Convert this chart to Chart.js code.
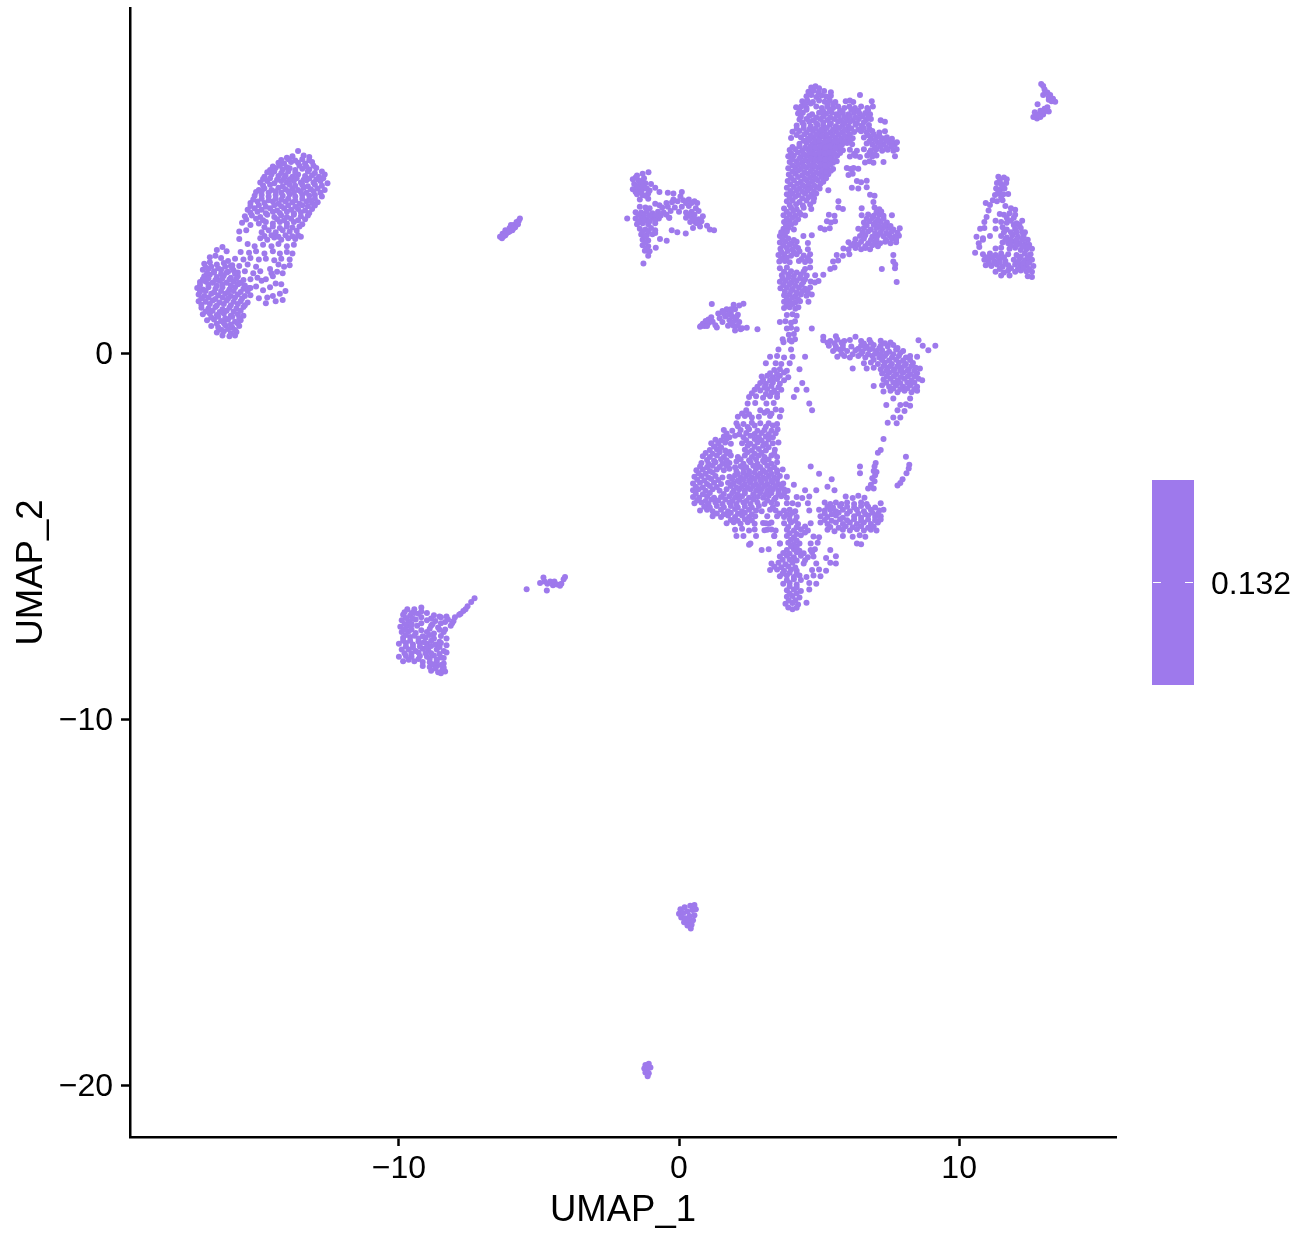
<!DOCTYPE html>
<html><head><meta charset="utf-8">
<script src="https://cdn.jsdelivr.net/npm/chart.js@4/dist/chart.umd.min.js"></script>
<style>html,body{margin:0;padding:0;background:#fff}canvas{display:block}</style>
</head><body><canvas id="c" width="1299" height="1233"></canvas>
<script>
const xTicks=[-10,0,10];
const yTicks=[-20,-10,0];
const xTitle="UMAP_1";
const yTitle="UMAP_2";
const legendLabel="0.132";
const pointColor="#9E79EC";
// each list: x,y,x,y,... in UMAP units
const sausage=[-13.6,5.52,-13.4,5.4,-13.8,5.38,-14,5.34,-13.2,5.36,-14.3,5.2,-14.1,5.18,-13.85,5.22,-13.6,5.2,-13.35,5.18,-13.1,5.22,
-14.6,5,-14.4,5.06,-14.15,5.02,-13.9,5.05,-13.7,5,-13.45,5.04,-13.2,5.02,-12.95,5.06,-14.8,4.82,-14.55,4.88,-14.3,4.84,-14.05,4.86,-13.8,4.82,-13.6,4.88,-13.35,4.84,-13.1,4.86,-12.85,4.82,-12.65,4.88,
-14.95,4.66,-14.7,4.7,-14.45,4.64,-14.2,4.7,-14,4.66,-13.75,4.7,-13.5,4.66,-13.3,4.72,-13.05,4.66,-12.8,4.7,-12.55,4.64,-15,4.46,-14.8,4.5,-14.55,4.46,-14.3,4.52,-14.05,4.48,-13.8,4.5,-13.6,4.46,-13.4,4.52,-13.15,4.48,-12.9,4.5,-12.65,4.46,
-15.15,4.3,-14.9,4.32,-14.65,4.28,-14.4,4.32,-14.15,4.3,-13.9,4.34,-13.7,4.28,-13.45,4.32,-13.2,4.3,-13,4.32,-12.75,4.28,-15.3,4.1,-15.05,4.14,-14.8,4.1,-14.5,4.14,-14.3,4.08,-14.05,4.14,-13.8,4.12,-13.55,4.08,-13.3,4.14,-13.1,4.1,-12.9,4.12,
-15.4,3.92,-15.15,3.96,-14.9,3.92,-14.6,3.96,-14.35,3.9,-14.1,3.96,-13.85,3.92,-13.6,3.94,-13.35,3.9,-13.1,3.94,-15.5,3.74,-15.25,3.76,-14.95,3.72,-14.7,3.78,-14.45,3.72,-14.2,3.76,-14,3.72,-13.75,3.78,-13.5,3.74,-13.25,3.76,
-15.6,3.56,-15.3,3.5,-15,3.54,-14.75,3.58,-14.5,3.54,-14.25,3.58,-14,3.54,-13.75,3.58,-13.45,3.52,-15.7,3.32,-15.45,3.36,-14.9,3.3,-14.65,3.36,-14.4,3.3,-14.15,3.36,-13.9,3.32,-13.65,3.34,-15.7,3.12,-14.95,3.14,-14.7,3.1,-14.45,3.16,-14.2,3.1,-13.95,3.14,-13.7,3.12,-13.5,3.18,
-15.4,2.98,-15.15,2.92,-14.85,2.96,-14.55,2.92,-14.3,2.98,-14,2.92,-13.75,2.96,-15.65,2.76,-15.35,2.74,-15.1,2.78,-14.8,2.72,-14.5,2.78,-14.25,2.72,-14,2.76,-13.8,2.72,-15.85,2.58,-15.55,2.56,-15.3,2.6,-15,2.56,-14.75,2.58,-14.45,2.54,-14.2,2.58,-13.9,2.56,
-15.95,2.4,-15.7,2.38,-15.4,2.42,-15.1,2.36,-14.6,2.3,-14.3,2.42,-14.1,2.36,-13.9,2.4,-15.75,2.2,-15.5,2.24,-15.2,2.18,-14.95,2.24,-14.55,2.18,-14.75,2.02,-14.5,2.1,-14.35,2.22,-14.15,2.18,-14.9,1.98,-15.3,2.02,-15.05,2.06,-15.55,2,-15.7,1.9,-15.35,1.78,-15.1,1.82,-14.85,1.72,-14.6,1.8,-14.4,1.9,-14.2,1.88,-14.05,1.7,-14.25,1.62,-14.5,1.56,-14.7,1.52,-14.15,1.45,-14.4,1.42,-15.3,1.58,-15,1.5,-14.75,1.36];
const sausageFill=[-14.2,5.28,-13.95,5.3,-13.7,5.26,-13.45,5.3,-13.2,5.27,-14.5,5.1,-14.25,5.12,-14,5.08,-13.55,5.12,-13.3,5.09,-13.05,5.12,-14.7,4.94,-14.45,4.96,-14.2,4.92,-13.95,4.96,-13.7,4.93,-13.25,4.96,-13,4.92,-12.75,4.96,
-14.85,4.76,-14.6,4.78,-14.35,4.74,-14.1,4.78,-13.9,4.75,-13.65,4.78,-13.4,4.74,-13.2,4.77,-12.95,4.75,-12.7,4.78,-14.85,4.58,-14.6,4.6,-14.15,4.56,-13.9,4.6,-13.7,4.57,-13.45,4.6,-13.25,4.56,-13,4.6,-12.75,4.57,
-15.1,4.4,-14.9,4.42,-14.65,4.38,-14.4,4.42,-14.2,4.39,-13.95,4.42,-13.75,4.38,-13.5,4.41,-13.3,4.38,-13.05,4.42,-12.8,4.38,-15.2,4.2,-14.9,4.22,-14.65,4.18,-14.4,4.22,-14.2,4.19,-13.95,4.22,-13.7,4.18,-13.45,4.22,-13.2,4.19,-13,4.22,
-15.3,4.02,-15,4.04,-14.75,4,-14.45,4.04,-14.2,4.01,-13.95,4.04,-13.7,4,-13.45,4.04,-13.25,4.01,-13,4.03,-15.3,3.84,-15.05,3.86,-14.75,3.82,-14.5,3.86,-14.25,3.83,-14,3.86,-13.75,3.82,-13.5,3.85,-13.2,3.83,
-15.45,3.65,-15.1,3.67,-14.85,3.63,-14.35,3.66,-14.1,3.63,-13.85,3.67,-13.6,3.63,-13.35,3.66,-14.8,3.44,-14.5,3.46,-14.25,3.42,-14,3.46,-13.8,3.43,-13.55,3.46,-14.8,3.2,-14.55,3.22,-14.3,3.18,-14.05,3.22,-13.8,3.19,-13.6,3.22];
const blobA=[-16.3,2.9,-16.5,2.82,-16.15,2.78,-16.75,2.62,-16.55,2.66,-16.35,2.6,-16.1,2.52,-16.95,2.44,-16.75,2.48,-16.5,2.42,-16.25,2.46,-16,2.38,-17,2.28,-16.8,2.3,-16.6,2.24,-16.35,2.28,-16.1,2.22,-15.9,2.26,-16.95,2.1,-16.75,2.14,-16.5,2.08,-16.25,2.12,-16,2.06,-15.75,2.1,
-17.1,1.94,-16.9,1.96,-16.65,1.92,-16.4,1.98,-16.15,1.92,-15.9,1.96,-15.65,1.92,-17.2,1.78,-17,1.74,-16.8,1.8,-16.55,1.76,-16.3,1.8,-16.05,1.74,-15.85,1.8,-15.55,1.76,-15.3,1.78,-17.15,1.6,-16.95,1.56,-16.7,1.62,-16.45,1.58,-16.2,1.62,-16,1.56,-15.75,1.6,-15.5,1.56,
-17.15,1.42,-16.9,1.4,-16.65,1.44,-16.4,1.38,-16.15,1.44,-15.9,1.4,-15.65,1.42,-15.4,1.38,-17.05,1.24,-16.8,1.22,-16.55,1.26,-16.3,1.2,-16.05,1.24,-15.8,1.22,-15.55,1.26,-17,1.06,-16.75,1.08,-16.5,1.04,-16.25,1.08,-16,1.02,-15.75,1.06,-15.55,1.02,
-16.85,.9,-16.6,.92,-16.35,.88,-16.1,.92,-15.85,.86,-15.65,.9,-16.7,.74,-16.45,.7,-16.2,.76,-15.95,.7,-15.7,.74,-16.5,.56,-16.25,.6,-16,.54,-15.8,.58,-16.3,.48,-16.05,.46,-15.85,.48];
const blobFill=[-16.9,2.34,-16.7,2.36,-16.45,2.32,-16.2,2.36,-15.95,2.33,-16.85,2.18,-16.6,2.2,-16.35,2.16,-16.15,2.2,-15.85,2.17,-17,2.02,-16.8,2.04,-16.55,2,-16.3,2.04,-16.05,2.01,-15.8,2.03,-17.1,1.86,-16.8,1.88,-16.5,1.84,-16.3,1.88,-16,1.85,-15.75,1.88,-15.5,1.85,
-17.1,1.68,-16.9,1.7,-16.6,1.66,-16.35,1.7,-16.1,1.67,-15.9,1.7,-15.65,1.67,-15.4,1.7,-17.05,1.5,-16.8,1.52,-16.55,1.48,-16.3,1.52,-16.1,1.49,-15.85,1.52,-15.6,1.49,-17.05,1.32,-16.75,1.34,-16.5,1.3,-16.25,1.34,-16,1.31,-15.75,1.34,-15.5,1.31,
-16.9,1.14,-16.65,1.16,-16.4,1.12,-16.15,1.16,-15.9,1.13,-15.65,1.16,-16.7,.97,-16.45,.99,-16.2,.95,-15.95,.99,-15.7,.96,-16.5,.8,-16.25,.82,-16,.78,-15.75,.81,-16.35,.64,-16.1,.66,-15.85,.63];
const topTall=[4.72,7.26,4.87,7.29,5,7.24,4.62,7.14,4.8,7.17,4.98,7.12,5.18,7.16,5.42,7.13,4.55,7.02,4.72,7.05,4.9,7,5.08,7.04,5.25,7.01,5.42,7.03,6.46,7.05,
4.4,6.88,4.58,6.9,4.78,6.86,5,6.9,5.2,6.87,5.38,6.9,5.58,6.86,5.95,6.88,6.1,6.9,6.22,6.86,6.88,6.88,4.18,6.72,4.36,6.74,4.55,6.7,4.9,6.74,5.1,6.7,5.3,6.73,5.5,6.7,5.68,6.74,5.9,6.7,6.08,6.74,6.28,6.7,6.5,6.74,6.72,6.7,6.92,6.74,
4.25,6.55,4.42,6.57,4.75,6.53,5,6.57,5.25,6.54,5.45,6.57,5.62,6.53,5.85,6.56,6.05,6.53,6.25,6.57,6.45,6.54,6.65,6.56,6.82,6.53,4.3,6.38,4.55,6.4,4.8,6.36,5.05,6.4,5.3,6.37,5.55,6.4,5.78,6.36,6,6.39,6.2,6.36,6.42,6.4,6.68,6.37,6.85,6.4,7.2,6.36,7.35,6.32,
4.2,6.22,4.45,6.24,4.7,6.2,4.95,6.24,5.15,6.21,5.38,6.24,5.6,6.2,5.85,6.23,6.05,6.2,6.3,6.24,6.52,6.21,6.78,6.23,4.05,6.05,4.3,6.07,4.55,6.03,4.78,6.07,5,6.04,5.18,6.07,5.4,6.03,5.6,6.06,5.82,6.03,6.02,6.07,6.25,6.04,6.5,6.06,6.7,6.03,6.9,6.07,7.15,6.03,7.35,6.06,
4,5.88,4.35,5.9,4.6,5.86,4.8,5.9,5,5.87,5.2,5.9,5.38,5.86,5.58,5.89,5.8,5.86,6,5.9,6.2,5.87,6.6,5.89,6.85,5.86,7.05,5.9,7.25,5.87,7.42,5.9,7.6,5.86,4.3,5.72,4.55,5.74,4.75,5.7,4.92,5.74,5.1,5.71,5.28,5.74,5.46,5.7,5.64,5.73,5.82,5.7,6,5.74,6.18,5.71,6.7,5.73,6.9,5.7,7.1,5.74,7.3,5.71,7.5,5.74,7.7,5.7,7.78,5.76,
3.95,5.55,4.15,5.57,4.4,5.53,4.6,5.57,4.78,5.54,4.96,5.57,5.14,5.53,5.32,5.56,5.5,5.53,5.68,5.57,5.85,5.54,6.1,5.56,6.35,5.53,6.6,5.57,6.85,5.54,7.05,5.57,7.25,5.53,7.45,5.56,7.65,5.53,7.77,5.57,
3.9,5.38,4.1,5.4,4.35,5.36,4.55,5.4,4.75,5.37,4.92,5.4,5.1,5.36,5.28,5.39,5.45,5.36,5.65,5.4,6.1,5.37,6.3,5.39,6.46,5.36,6.72,5.4,6.9,5.37,7.05,5.4,7.71,5.38,3.95,5.22,4.2,5.24,4.4,5.2,4.6,5.24,4.8,5.21,4.98,5.24,5.15,5.2,5.32,5.23,5.5,5.2,5.63,5.24,6.64,5.21,6.8,5.24,6.94,5.2,7.3,5.22,
3.9,5.05,4.15,5.07,4.35,5.03,4.55,5.07,4.75,5.04,4.95,5.07,5.12,5.03,5.3,5.06,5.5,5.03,5.99,5.06,6.12,5.03,6.23,5.06,6.4,5.04,3.92,4.88,4.15,4.9,4.4,4.86,4.6,4.9,4.8,4.87,5,4.9,5.18,4.86,5.33,4.89,6.05,4.87,6.2,4.9,3.88,4.7,4.1,4.72,4.35,4.68,4.55,4.72,4.75,4.69,4.95,4.72,5.15,4.68,6.35,4.7,6.5,4.67,6.7,4.71,
3.85,4.52,4.1,4.54,4.3,4.5,4.5,4.54,4.7,4.51,4.9,4.54,5.02,4.5,5.33,4.45,6.17,4.52,6.4,4.5,6.7,4.53,3.85,4.34,4.05,4.36,4.25,4.32,4.5,4.36,4.72,4.33,4.9,4.36,6.82,4.33,6.98,4.3,3.85,4.15,4.05,4.17,4.3,4.13,4.55,4.17,4.8,4.14,5.69,4.15,6.94,4.13,
3.75,3.95,4,3.97,4.2,3.93,4.45,3.97,4.72,3.94,5.69,3.98,5.85,3.94,6.52,3.96,6.98,3.98,7.15,3.93,3.73,3.77,3.95,3.79,4.15,3.75,4.35,3.79,4.5,3.76,5.35,3.78,5.55,3.75,6.52,3.77,6.75,3.79,6.95,3.75,7.15,3.78,7.3,3.75,7.6,3.77,3.75,3.58,3.95,3.6,4.15,3.56,5.28,3.6,5.42,3.57,5.57,3.6,6.6,3.57,6.8,3.6,7,3.56,7.2,3.59,7.42,3.57,
3.73,3.4,3.9,3.42,4.1,3.38,5.05,3.42,5.2,3.38,5.38,3.41,6.4,3.4,6.6,3.42,6.85,3.38,7.05,3.42,7.25,3.39,7.45,3.42,7.65,3.38,7.88,3.41,3.6,3.2,3.78,3.22,4.44,3.2,4.74,3.22,6.46,3.2,6.65,3.22,6.9,3.18,7.1,3.22,7.3,3.19,7.5,3.22,7.7,3.18,7.85,3.21,
3.6,3.02,3.8,3.04,4,3,4.2,3.04,4.6,3.01,6.05,3.03,6.25,3,6.5,3.04,6.75,3,7,3.03,7.18,3,7.36,3.04,7.55,3,7.75,3.03,3.62,2.85,3.85,2.87,4.05,2.83,4.25,2.87,4.6,2.84,5.87,2.86,6.05,2.83,6.3,2.87,6.5,2.84,6.65,2.87,6.82,2.84,
3.55,2.68,3.75,2.7,4,2.66,4.2,2.7,4.45,2.67,4.68,2.7,5.63,2.68,5.85,2.66,6.08,2.7,7.65,2.68,3.58,2.5,3.78,2.52,3.95,2.48,4.28,2.52,4.5,2.49,4.68,2.52,5.5,2.5,5.68,2.53,7.65,2.5,3.6,2.32,3.85,2.34,4.5,2.3,4.68,2.34,5.4,2.3,5.55,2.34,7.24,2.3,7.71,2.32,7.72,2.42,
3.67,2.13,3.9,2.15,4.1,2.11,4.35,2.15,4.56,2.12,4.86,2.13,5.15,2.14,3.6,1.95,3.8,1.97,4,1.93,4.2,1.97,4.44,1.94,4.7,1.96,4.85,1.93,4.98,1.97,7.77,1.94,3.62,1.77,3.85,1.79,4.05,1.75,4.28,1.79,4.5,1.76,4.68,1.79,
3.75,1.58,3.95,1.6,4.15,1.56,4.35,1.6,4.55,1.57,4.74,1.6,3.75,1.4,3.95,1.42,4.15,1.38,4.32,1.42,4.62,1.4,3.75,1.23,3.95,1.25,4.15,1.21,4.26,1.25,3.85,1.04,4.05,1.06,4.2,1.02,3.6,.85,3.8,.87,4,.83,4.14,.87,3.85,.67,4,.69,4.2,.65,4.74,.67,3.92,.5,4.1,.52,3.73,.3,4.02,.32];
const topFill=[4.5,6.8,4.7,6.82,5.3,6.78,5.5,6.81,4.3,6.63,4.55,6.65,5.15,6.61,5.38,6.64,5.75,6.62,6.15,6.65,6.4,6.62,6.75,6.64,4.35,6.46,4.65,6.48,4.9,6.44,5.15,6.47,5.4,6.44,5.7,6.48,5.9,6.45,6.1,6.48,6.3,6.44,6.55,6.47,6.75,6.45,
4.4,6.3,4.65,6.32,4.9,6.28,5.15,6.31,5.42,6.28,5.68,6.32,5.9,6.29,6.1,6.32,6.35,6.28,6.6,6.31,4.2,6.13,4.45,6.15,4.65,6.11,4.88,6.14,5.08,6.11,5.28,6.15,5.5,6.12,5.72,6.15,5.92,6.11,6.15,6.14,6.4,6.11,6.6,6.15,6.8,6.12,
4.2,5.96,4.48,5.98,4.7,5.94,4.9,5.97,5.1,5.94,5.28,5.98,5.48,5.95,5.7,5.98,5.9,5.94,6.1,5.97,6.75,5.95,6.95,5.98,7.15,5.94,4.45,5.8,4.65,5.82,4.85,5.78,5,5.81,5.2,5.78,5.38,5.82,5.55,5.79,5.72,5.82,5.9,5.78,6.1,5.81,6.8,5.79,7,5.82,7.2,5.78,7.4,5.81,7.6,5.78,
4.05,5.63,4.3,5.65,4.5,5.61,4.7,5.64,4.87,5.61,5.05,5.65,5.23,5.62,5.4,5.65,5.58,5.61,5.76,5.64,7,5.62,7.2,5.65,7.4,5.61,7.6,5.64,4,5.46,4.25,5.48,4.45,5.44,4.65,5.47,4.85,5.44,5.02,5.48,5.2,5.45,5.37,5.48,5.55,5.44,5.75,5.47,6.25,5.45,6.8,5.48,6.98,5.44,
4.05,5.3,4.3,5.32,4.5,5.28,4.7,5.31,4.88,5.28,5.05,5.32,5.22,5.29,5.4,5.32,5.57,5.28,4.05,5.13,4.25,5.15,4.45,5.11,4.65,5.14,4.85,5.11,5.05,5.15,5.22,5.12,5.4,5.15,4.05,4.96,4.25,4.98,4.48,4.94,4.7,4.97,4.9,4.94,5.1,4.98,5.25,4.95,5.42,4.98,
4,4.79,4.25,4.81,4.48,4.77,4.68,4.8,4.88,4.77,5.08,4.81,5.25,4.78,3.98,4.61,4.22,4.63,4.42,4.59,4.62,4.62,4.82,4.59,5.05,4.63,3.98,4.43,4.2,4.45,4.4,4.41,4.6,4.44,4.82,4.41,3.95,4.25,4.15,4.27,4.4,4.23,4.62,4.26,4.82,4.23,3.95,4.05,4.18,4.07,4.42,4.03,4.68,4.06,
3.85,3.86,4.08,3.88,4.3,3.84,3.85,3.68,4.05,3.7,4.25,3.66,3.82,3.49,4,3.51,3.65,3.3,3.85,3.32,3.7,3.11,3.9,3.13,4.1,3.09,3.72,2.94,3.95,2.96,4.15,2.92,3.65,2.77,3.88,2.79,4.1,2.75,4.3,2.78,3.65,2.59,3.85,2.61,4.38,2.57,4.6,2.6,
3.75,2.22,4,2.24,4.2,2.2,4.45,2.23,3.7,2.04,3.9,2.06,4.1,2.02,4.32,2.05,4.5,2.02,3.72,1.86,3.95,1.88,4.15,1.84,4.38,1.87,3.78,1.68,4,1.7,4.2,1.66,4.4,1.69,4.6,1.66,3.85,1.49,4.05,1.51,4.25,1.47,3.85,1.32,4.05,1.34,
7.05,3.85,7.22,3.87,6.7,3.67,6.9,3.69,7.1,3.65,7.3,3.68,6.7,3.49,6.95,3.51,7.15,3.47,7.35,3.5,7.55,3.47,6.55,3.3,6.75,3.32,7,3.28,7.2,3.31,7.4,3.28,7.6,3.32,7.8,3.29,6.3,3.11,6.6,3.13,6.85,3.09,7.05,3.12,7.4,3.09,7.6,3.13,7.75,3.1,6.15,2.94,6.4,2.96,6.65,2.92,6.9,2.95,7.1,2.92];
const lowerLeft=[3.7,.38,3.95,.36,4.14,.38,3.55,.1,4,.1,3.25,-.1,3.5,-.08,3.75,-.12,4.05,-.1,4.5,-.1,3.1,-.28,3.45,-.28,3.65,-.3,3.95,-.28,4.3,-.44,3.4,-.46,3.6,-.44,3.85,-.48,2.95,-.64,3.15,-.62,3.35,-.66,3.6,-.62,3.9,-.66,2.9,-.82,3.1,-.84,3.35,-.8,3.6,-.84,4.4,-.82,
2.7,-1,2.9,-1.02,3.15,-.98,3.4,-1.02,3.65,-1,4.2,-1,4.55,-1,2.5,-1.2,2.75,-1.18,3,-1.22,3.25,-1.18,3.5,-1.2,4.1,-1.2,2.45,-1.38,2.72,-1.36,3.12,-1.38,3.38,-1.36,4.65,-1.38,2.4,-1.56,2.9,-1.56,3.15,-1.58,3.45,-1.54,3.65,-1.56,4.75,-1.56,
2.1,-1.74,2.35,-1.72,2.6,-1.76,2.85,-1.74,3.25,-1.72,3.6,-1.74,2.05,-1.92,2.3,-1.94,2.6,-1.9,2.9,-1.92,3.2,-1.92,3.5,-1.94,1.6,-2.1,1.9,-2.12,2.2,-2.1,2.5,-2.08,2.8,-2.12,3.05,-2.1,3.3,-2.12,3.52,-2.08,1.6,-2.28,1.8,-2.3,2,-2.26,2.3,-2.3,2.55,-2.26,2.85,-2.3,3.1,-2.28,3.35,-2.3,
1.15,-2.46,1.4,-2.48,1.65,-2.44,1.85,-2.48,2.25,-2.46,2.55,-2.48,2.8,-2.44,3.1,-2.48,3.35,-2.46,3.55,-2.44,1.1,-2.65,1.35,-2.63,1.65,-2.66,1.8,-2.7,2.35,-2.64,2.6,-2.66,2.85,-2.62,3.1,-2.66,3.42,-2.64,.85,-2.82,1.1,-2.84,1.35,-2.8,1.6,-2.84,1.85,-2.8,2.1,-2.84,2.35,-2.8,2.6,-2.84,2.85,-2.8,3.05,-2.84,3.3,-2.8,3.5,-2.84,
.8,-3,1.05,-3.02,1.3,-2.98,1.55,-3.02,1.8,-3,2.05,-2.96,2.3,-3.02,2.55,-2.98,2.8,-3.02,3.05,-2.98,3.3,-3.02,3.5,-2.98,.62,-3.2,.85,-3.18,1.1,-3.22,1.35,-3.18,1.6,-3.2,1.8,-3.16,2.05,-3.22,2.3,-3.16,2.5,-3.22,2.75,-3.16,3,-3.2,3.25,-3.18,3.5,-3.2,3.7,-3.18,
.55,-3.38,.8,-3.36,1.05,-3.4,1.3,-3.36,1.55,-3.4,1.8,-3.38,2,-3.34,2.2,-3.4,2.4,-3.36,2.6,-3.4,2.8,-3.36,3,-3.4,3.2,-3.36,3.4,-3.4,3.6,-3.36,3.85,-3.38,.5,-3.56,.75,-3.54,1,-3.58,1.25,-3.54,1.5,-3.58,1.75,-3.54,1.95,-3.56,2.15,-3.52,2.35,-3.58,2.55,-3.54,2.75,-3.58,2.95,-3.54,3.15,-3.58,3.35,-3.54,3.55,-3.58,3.72,-3.56,4.1,-3.6,
.5,-3.75,.7,-3.72,.95,-3.76,1.2,-3.72,1.45,-3.76,1.7,-3.72,1.95,-3.76,2.15,-3.72,2.35,-3.76,2.55,-3.72,2.75,-3.76,2.95,-3.72,3.15,-3.76,3.35,-3.72,3.55,-3.76,3.75,-3.72,3.88,-3.76,.5,-3.93,.72,-3.95,1,-3.91,1.25,-3.95,1.5,-3.93,1.8,-3.91,2,-3.95,2.25,-3.91,2.5,-3.95,2.8,-3.93,3,-3.95,3.2,-3.9,3.45,-3.95,3.65,-3.91,3.85,-3.95,
.55,-4.1,.8,-4.08,1.05,-4.12,1.3,-4.08,1.55,-4.12,1.8,-4.08,2.05,-4.12,2.3,-4.08,2.55,-4.12,2.8,-4.08,3.05,-4.12,3.3,-4.08,3.5,-4.12,.75,-4.3,1,-4.28,1.2,-4.32,1.5,-4.28,1.75,-4.32,2,-4.26,2.25,-4.32,2.5,-4.28,2.75,-4.3,2.95,-4.32,3.25,-4.28,3.45,-4.3,
1.2,-4.46,1.5,-4.48,1.75,-4.44,2,-4.48,2.25,-4.44,2.5,-4.48,2.72,-4.46,3.15,-4.46,1.7,-4.65,1.95,-4.62,2.2,-4.66,2.45,-4.62,2.7,-4.66,3,-4.64,3.2,-4.66,2,-4.83,2.25,-4.8,2.5,-4.85,2.7,-4.82,3.05,-4.84,3.3,-4.82,2.05,-5,2.3,-5,2.75,-5,3.4,-5,2.55,-5.2,3.6,-5.2,2.95,-5.38,3.2,-5.36,2.5,-5.24];
const lowerLeftFill=[1,-2.92,1.25,-2.94,1.5,-2.9,1.7,-2.93,2.2,-2.9,2.5,-2.93,2.75,-2.9,3,-2.94,3.2,-2.91,.75,-3.1,1,-3.12,1.2,-3.08,1.45,-3.11,1.7,-3.08,2,-3.12,2.2,-3.09,2.4,-3.12,2.65,-3.08,2.9,-3.11,3.15,-3.08,3.4,-3.12,.7,-3.28,.95,-3.3,1.2,-3.26,2.1,-3.3,2.3,-3.27,2.5,-3.3,2.7,-3.26,2.9,-3.29,3.1,-3.26,3.3,-3.3,3.5,-3.27,
.65,-3.46,.9,-3.48,1.15,-3.44,1.4,-3.47,1.9,-3.44,2.1,-3.48,2.3,-3.45,2.5,-3.48,2.7,-3.44,2.9,-3.47,3.1,-3.44,3.3,-3.48,3.5,-3.45,.6,-3.65,.85,-3.67,1.1,-3.63,1.35,-3.66,1.85,-3.63,2.05,-3.67,2.25,-3.64,2.45,-3.67,2.65,-3.63,2.85,-3.66,3.05,-3.63,3.25,-3.67,3.45,-3.64,3.65,-3.67,
.6,-3.84,.85,-3.86,1.1,-3.82,1.6,-3.85,1.9,-3.82,2.1,-3.86,2.35,-3.83,2.65,-3.86,2.9,-3.82,3.1,-3.85,3.3,-3.82,3.55,-3.86,3.75,-3.83,.65,-4.02,.95,-4.04,1.15,-4,1.4,-4.03,1.65,-4,1.9,-4.04,2.15,-4.01,2.4,-4.04,2.65,-4,3.15,-4.03,3.4,-4,.9,-4.2,1.1,-4.22,1.35,-4.18,1.6,-4.21,1.85,-4.18,2.1,-4.22,2.35,-4.19,2.6,-4.22,2.85,-4.18,3.35,-4.21,
1.35,-4.38,1.6,-4.4,1.85,-4.36,2.1,-4.39,2.35,-4.36,2.6,-4.4,1.85,-4.56,2.1,-4.58,2.35,-4.54,2.6,-4.57,
3.25,-.55,3.5,-.57,3.75,-.53,3,-.73,3.25,-.75,3.5,-.71,3.75,-.74,2.8,-.92,3.05,-.94,3.3,-.9,3.55,-.93,2.6,-1.1,3.1,-1.12,3.3,-1.08,3.5,-1.11,2.25,-1.65,2.5,-1.67,3.05,-1.63,3.3,-1.66,2.1,-2,2.45,-2.02,2.7,-1.98,3.1,-2.01,3.35,-1.98,
1.7,-2.2,2.15,-2.22,2.4,-2.18,2.7,-2.21,2.95,-2.18,3.2,-2.22,3.45,-2.19,1.3,-2.37,1.5,-2.39,1.7,-2.35,2.4,-2.38,2.7,-2.35,2.95,-2.39,3.2,-2.36,1.25,-2.55,1.5,-2.57,2.45,-2.53,2.7,-2.56,3,-2.53,3.2,-2.57,.95,-2.73,1.2,-2.75,1.45,-2.71,1.7,-2.74,2.45,-2.71,2.7,-2.75,2.95,-2.72,3.4,-2.74];
const lowerMid=[4.7,-3.1,5,-3.3,5.45,-3.45,5.3,-3.65,5.55,-3.75,4.5,-3.75,4.9,-3.75,4.2,-3.93,4.4,-3.96,4.65,-3.92,5.95,-3.92,6.2,-3.96,6.4,-3.9,6.62,-3.95,6.75,-3.7,3.85,-4.1,4.05,-4.1,4.25,-4.14,4.6,-4.1,5.2,-4.08,5.4,-4.12,5.6,-4.08,5.8,-4.12,6,-4.08,6.25,-4.12,6.5,-4.08,6.7,-4.12,7.2,-4.1,
3.75,-4.3,3.95,-4.28,4.15,-4.32,4.65,-4.3,5,-4.28,5.2,-4.3,5.4,-4.28,5.6,-4.32,5.85,-4.28,6.1,-4.32,6.35,-4.28,6.6,-4.32,6.85,-4.28,7.15,-4.3,7.3,-4.28,3.5,-4.46,3.75,-4.48,3.95,-4.44,4.2,-4.48,5.05,-4.46,5.3,-4.48,5.6,-4.44,5.85,-4.5,6.25,-4.46,6.5,-4.5,6.75,-4.44,7,-4.48,7.2,-4.46,
3.1,-4.65,3.3,-4.63,3.75,-4.65,4,-4.63,4.25,-4.67,4.7,-4.65,5.05,-4.63,5.3,-4.67,5.6,-4.63,5.85,-4.67,6.1,-4.63,6.35,-4.67,6.6,-4.63,6.85,-4.67,7.1,-4.63,3.15,-4.83,3.45,-4.85,3.85,-4.83,4.1,-4.85,4.35,-4.81,4.6,-4.85,5.3,-4.83,5.55,-4.87,5.85,-4.83,6.1,-4.85,6.35,-4.81,6.6,-4.85,6.85,-4.83,7.05,-4.85,
3.4,-5,3.85,-5,4.1,-5.03,4.35,-4.98,4.8,-5.01,5,-5.03,5.85,-5,6.2,-5.02,6.45,-4.98,6.65,-5.02,3.6,-5.2,3.9,-5.18,4.1,-5.22,4.3,-5.2,4.7,-5.2,4.95,-5.18,6.35,-5.2,6.5,-5.22,3.85,-5.38,4.1,-5.36,4.3,-5.4,4.7,-5.38,4.85,-5.36,5.4,-5.38,
3.6,-5.56,3.85,-5.54,4.1,-5.58,4.35,-5.54,4.6,-5.58,4.8,-5.56,5.25,-5.6,5.6,-5.55,3.3,-5.75,3.55,-5.73,3.8,-5.77,4.05,-5.73,4.45,-5.75,4.9,-5.75,5.4,-5.73,5.6,-5.75,3.25,-5.93,3.5,-5.91,3.75,-5.95,4,-5.91,4.2,-5.95,4.75,-5.93,5,-5.91,5.25,-5.95,
3.6,-6.1,3.85,-6.08,4.1,-6.12,4.3,-6.08,4.55,-6.12,4.8,-6.08,5.05,-6.1,3.72,-6.3,3.95,-6.28,4.2,-6.32,4.65,-6.28,4.9,-6.3,3.85,-6.48,4.1,-6.46,4.35,-6.5,4.65,-6.46,3.85,-6.66,4.05,-6.64,4.3,-6.68,3.8,-6.85,4.05,-6.83,4.25,-6.87,4.55,-6.82,4.05,-7,4.2,-6.96,3.9,-6.95];
const lowerMidFill=[5.3,-4.2,5.5,-4.22,5.75,-4.18,6,-4.2,6.25,-4.22,6.5,-4.18,6.75,-4.2,7,-4.22,5.2,-4.38,5.45,-4.4,5.7,-4.36,6,-4.39,6.4,-4.38,6.65,-4.4,6.9,-4.36,7.1,-4.39,5.2,-4.56,5.45,-4.58,5.75,-4.54,6,-4.57,6.25,-4.54,6.5,-4.58,6.75,-4.55,7,-4.57,7.2,-4.55,5.4,-4.75,5.7,-4.77,5.95,-4.73,6.2,-4.76,6.5,-4.73,6.75,-4.77,6.95,-4.74,
3.95,-4.55,4.15,-4.58,3.9,-4.75,4.2,-4.76,4.5,-4.74,3.95,-4.92,4.2,-4.94,4.5,-4.9,4,-5.1,4.2,-5.12,4,-5.28,4.2,-5.3,3.7,-5.65,3.95,-5.65,4.2,-5.67,4.5,-5.66,3.4,-5.84,3.65,-5.85,3.9,-5.83,4.15,-5.86,3.7,-6.02,3.95,-6,4.2,-6.03,3.85,-6.2,4.1,-6.18,4.35,-6.2,3.95,-6.38,4.2,-6.4,3.95,-6.57,4.2,-6.56,3.92,-6.76,4.15,-6.75,
3.6,-4.38,3.85,-4.4,4.05,-4.36,3.72,-5.46,3.95,-5.48,4.2,-5.44,4.45,-5.47,4.75,-5.44];
const rightArm=[5.15,.45,5.6,.46,6.3,.45,5.15,.35,5.4,.33,5.65,.37,5.9,.33,6.1,.36,6.5,.33,6.8,.36,7.2,.34,8.55,.35,5.35,.2,5.6,.18,5.85,.22,6.15,.18,6.5,.2,6.7,.18,6.95,.22,7.2,.2,7.45,.18,7.65,.22,8.7,.2,9.15,.2,
5.5,.06,5.75,.1,6,.06,6.3,.08,6.55,.04,6.8,.1,7.05,.06,7.25,.08,7.5,.04,7.75,.1,8,.06,8.9,.08,5.65,-.1,5.9,-.08,6.1,-.12,6.4,-.08,6.65,-.12,6.9,-.08,7.15,-.12,7.35,-.08,7.6,-.12,7.85,-.08,8.1,-.12,8.25,-.08,8.5,-.1,
6.6,-.28,6.85,-.26,7.1,-.3,7.35,-.26,7.6,-.3,7.85,-.26,8.1,-.3,8.35,-.27,6.2,-.42,6.7,-.42,6.95,-.4,7.2,-.44,7.45,-.4,7.7,-.44,7.95,-.4,8.2,-.44,8.45,-.4,8.6,-.42,7.25,-.56,7.5,-.54,7.75,-.58,8,-.54,8.25,-.58,8.5,-.55,7.3,-.72,7.55,-.7,7.8,-.74,8.05,-.7,8.3,-.74,8.55,-.7,8.68,-.74,
6.95,-.9,7.25,-.88,7.5,-.92,7.75,-.88,8,-.92,8.25,-.88,8.5,-.92,7.3,-1.05,7.55,-1.03,7.8,-1.07,8.05,-1.03,8.3,-1.07,8.5,-1.03,7.65,-1.24,8.25,-1.24,7.4,-1.42,7.9,-1.42,8.1,-1.4,8.25,-1.44,7.8,-1.56,8.05,-1.58,7.65,-1.76,7.9,-1.76,7.77,-1.92,7.45,-1.9,7.3,-2.35,7.2,-2.65,7.1,-2.72,8.1,-2.83,
7.02,-3,6.98,-3.1,6.95,-3.22,7,-3.34,6.9,-3.42,6.98,-3.5,6.85,-3.6,6.95,-3.7,7.05,-3.25,6.46,-3.1,6.46,-3.28,8.22,-3.05,8.2,-3.15,8.12,-3.28,7.98,-3.45,7.8,-3.62,7.9,-3.55];
const rightArmFill=[5.3,.28,5.55,.27,5.8,.29,6.6,.26,6.85,.28,7.35,.27,7.55,.29,7.4,-.02,7.65,-.03,7.9,0,6.95,-.18,7.25,-.19,7.5,-.2,7.75,-.18,8,-.2,8.25,-.19,7.3,-.35,7.55,-.35,7.8,-.36,8.05,-.34,8.3,-.35,7.4,-.49,7.65,-.48,7.9,-.49,8.15,-.48,8.4,-.49,7.42,-.64,7.67,-.63,7.92,-.65,8.17,-.63,8.42,-.64,7.4,-.81,7.65,-.8,7.9,-.82,8.15,-.8,8.4,-.81,7.65,-.97,7.9,-.98,8.15,-.96,8.4,-.98,
5.6,.12,5.85,.13,6.4,.12,6.65,.14,6.9,.12,7.15,.13,7.8,.14,5.8,-.02,6.2,-.03,6.5,-.02,6.75,-.03,7,-.02,7.2,-.03];
const clusterH=[-9.7,-7,-9.45,-7,-9.2,-6.95,-9,-7.1,-9.85,-7.15,-9.6,-7.18,-9.3,-7.12,-8.75,-7.16,-8.55,-7.2,-8.3,-7.2,-9.9,-7.3,-9.65,-7.32,-9.4,-7.28,-9,-7.3,-8.7,-7.32,-8.35,-7.35,-9.95,-7.48,-9.7,-7.46,-9.35,-7.45,-8.85,-7.45,-8.6,-7.5,-8.35,-7.55,-8.15,-7.45,
-9.9,-7.62,-9.65,-7.6,-9.4,-7.65,-9,-7.62,-8.75,-7.66,-8.4,-7.62,-9.85,-7.78,-9.6,-7.76,-9.3,-7.8,-9.05,-7.78,-8.75,-7.8,-8.3,-7.8,-10,-7.94,-9.75,-7.92,-9.5,-7.96,-9.25,-7.92,-9,-7.94,-8.7,-7.96,-8.5,-7.92,-8.3,-7.98,
-9.9,-8.1,-9.65,-8.1,-9.4,-8.14,-9.15,-8.08,-8.95,-8.12,-8.65,-8.1,-8.4,-8.14,-10,-8.3,-9.75,-8.28,-9.55,-8.3,-9.25,-8.28,-9,-8.3,-8.75,-8.26,-8.5,-8.32,-9.85,-8.42,-9.45,-8.42,-9.15,-8.44,-8.9,-8.45,-8.65,-8.42,-8.4,-8.48,
-9.15,-8.55,-8.9,-8.58,-8.65,-8.55,-8.4,-8.6,-8.85,-8.68,-8.6,-8.72,-8.35,-8.7,-8.5,-8.75,-8.1,-7.38,-8.25,-7.28,-8,-7.22,-7.85,-7.15,-7.7,-7.05,-7.55,-6.92,-7.42,-6.8,-7.3,-6.7,-7.62,-7,-7.8,-7.12,-8.05,-7.32,
-9.8,-7.4,-9.8,-7.55,-9.75,-7.7,-9.85,-7.86,-9.6,-7.86,-9.75,-8.02,-9.5,-8.04,-9.8,-8.2,-9.55,-8.2,-9.3,-8.18,-9.65,-8.38,-9.3,-8.36,-9.05,-8.2,-8.8,-8.5,-8.5,-8.52,-8.7,-8.62,-8.45,-8.66,-9.55,-7.1,-9.55,-7.4,
-9.8,-7.08,-9.45,-7.1,-9.2,-7.06,-9.75,-7.24,-9.5,-7.26,-9.2,-7.22,-8.85,-7.25,-8.5,-7.22,-9.55,-7.42,-9.2,-7.38,-8.8,-7.41,-8.5,-7.38,-9.55,-7.55,-9.2,-7.57,-8.9,-7.53,-8.55,-7.56,-9.45,-7.72,-9.15,-7.74,-8.9,-7.7,-8.5,-7.73,-9.3,-7.88,-9.1,-7.9,-8.85,-7.86,-8.55,-7.89,-9.25,-8.02,-9,-8.04,-8.85,-8,-8.55,-8.03,-8.85,-8.2,-8.55,-8.22,-8.3,-8.18,-8.9,-8.35,-8.65,-8.37,-8.4,-8.33];
const clusterF=[-1.09,4.94,-1.3,4.9,-1.5,4.85,-1.65,4.75,-1.45,4.72,-1.25,4.78,-1.6,4.62,-1.4,4.6,-1.2,4.64,-1,4.62,-1.65,4.48,-1.45,4.46,-1.25,4.5,-1.05,4.44,-.85,4.52,-1.5,4.34,-1.3,4.32,-1.1,4.36,-.7,4.4,-.4,4.38,-.2,4.36,.1,4.4,-1.4,4.2,-1.1,4.22,
-.05,4.15,.15,4.18,.35,4.2,.55,4.15,-.45,4.1,-.25,4.12,-.7,4.04,-.85,4.08,-1.2,3.98,-1.4,4,-1.05,3.96,-.6,3.98,-.4,4,-.15,3.98,.1,4,.35,4.02,.6,3.96,.65,4.1,
-1.55,3.85,-1.35,3.84,-1.15,3.86,-.95,3.82,-.75,3.86,-.55,3.84,-.3,3.88,0,3.86,.25,3.84,.45,3.86,.7,3.88,-1.55,3.68,-1.35,3.7,-1.15,3.66,-.95,3.7,-.72,3.68,-.35,3.7,.25,3.7,.45,3.72,.7,3.66,.85,3.74,-1.5,3.52,-1.3,3.55,-1.1,3.52,-.85,3.55,.4,3.58,.6,3.56,.8,3.6,1,3.48,.5,3.42,.75,3.46,1.1,3.38,1.25,3.36,-1.85,3.68,
-1.4,3.4,-1.2,3.38,-1,3.42,-.85,3.36,-1.35,3.24,-1.15,3.22,-.95,3.25,-.85,3.28,-1.3,3.1,-1.1,3.08,-.68,3.12,-1.3,2.95,-1.1,2.92,-1.22,2.8,-1.05,2.78,-.83,2.88,-1.1,2.66,-1.27,2.45,-.26,3.36,-.06,3.3,.24,3.27,-.44,3.07,-.35,3.7,
-1.55,4.8,-1.35,4.68,-1.5,4.55,-1.3,4.55,-1.15,4.5,-1.55,4.4,-1.35,4.4,-1.2,4.3,-1.45,3.78,-1.25,3.76,-1.05,3.76,-.85,3.76,-.65,3.76,-.45,3.78,-1.45,3.6,-1.25,3.62,-1.05,3.6,-.85,3.62,-.2,4.2,.05,4.28,.25,4.1,.45,4.1,.55,3.65,.65,3.55,.35,3.78,.55,3.78,-1.3,3.32,-1.1,3.32,-1.2,3.18,-1.2,3.02,-1.15,2.85];
const clusterSmall=[-6.39,3.18,-6.3,3.26,-6.2,3.22,-6.2,3.36,-6.1,3.3,-6.05,3.42,-5.95,3.36,-5.9,3.5,-5.8,3.52,-5.72,3.62,-5.68,3.68,-5.85,3.44,-6.32,3.14,-6,3.5,-5.75,3.52,-6.25,3.2,-6.15,3.28,-6.05,3.32,-5.9,3.42,-5.8,3.58,-6.3,3.18];
const clusterG=[.78,.74,.85,.8,.95,.88,1.05,.92,1.15,.98,.9,.74,1.05,.82,1.2,.86,.75,.72,1,.74,1.17,1.34,1.3,.76,1.35,.7,1.4,1.08,1.55,1.15,1.7,1.2,1.45,.95,1.65,1,1.85,1.1,2,1.2,2.15,1.3,2.3,1.35,1.95,1.32,2.1,1.05,1.8,.9,2,.9,1.75,.75,1.95,.75,2.15,.85,2.2,.65,2,.62,2.42,.69,2.25,.68,2.8,.65,1.6,1.08,1.75,1.05,1.55,.85,1.9,1,2.05,.98,1.9,.82,2.1,.75,1.85,1.2];
const clusterI=[-5.44,-6.45,-4.96,-6.28,-4.8,-6.24,-4.84,-6.13,-4.7,-6.3,-4.6,-6.24,-4.5,-6.34,-4.45,-6.24,-4.35,-6.32,-4.2,-6.3,-4.12,-6.18,-4.72,-6.49,-4.25,-6.36,-4.07,-6.12];
const clusterJ=[12.93,7.35,13,7.3,13.05,7.2,13.15,7.12,13.25,7.05,13.35,6.95,13.43,6.87,13.3,6.88,13.2,6.92,13,7.05,12.8,6.8,13.15,6.72,13.05,6.68,12.9,6.62,12.85,6.52,13,6.52,12.7,6.58,12.65,6.45,12.78,6.41,12.9,6.45,13.2,6.6,13.08,7.12,13.2,7,13.3,6.95,12.95,6.55,12.8,6.5,13.05,6.6];
const clusterK=[11.4,4.82,11.6,4.8,11.7,4.75,11.35,4.65,11.5,4.62,11.68,4.65,11.32,4.5,11.48,4.48,11.62,4.5,11.75,4.35,11.4,4.36,11.58,4.34,11.28,4.32,11.2,4.18,11.35,4.15,11.55,4.18,10.95,4.1,11.1,4.05,11.05,3.9,11.65,4.02,11.85,3.96,12,3.92,
10.98,3.72,11.45,3.8,11.6,3.78,11.8,3.82,12,3.78,10.9,3.58,11.3,3.62,11.5,3.58,11.7,3.56,11.85,3.62,12.05,3.55,12.25,3.62,10.75,3.4,10.9,3.42,11.3,3.4,11.55,3.44,11.7,3.38,12,3.4,12.2,3.42,12.35,3.3,10.62,3.18,10.85,3.14,11.1,3.2,11.5,3.2,11.7,3.16,11.9,3.22,12.1,3.18,12.3,3.2,12.45,3.1,
10.7,3,10.85,3.1,11.55,3.02,11.75,3,11.95,3.04,12.15,3,12.35,2.98,12.5,2.96,10.72,2.9,11.3,2.86,11.5,2.88,11.8,2.85,12,2.88,12.2,2.82,12.4,2.84,12.6,2.85,10.57,2.74,10.85,2.7,11.1,2.72,11.3,2.68,11.5,2.72,11.75,2.7,12.05,2.68,12.35,2.72,12.55,2.7,
10.9,2.55,11.05,2.56,11.25,2.52,11.45,2.56,11.65,2.52,11.95,2.55,12.15,2.58,12.35,2.54,12.6,2.55,10.95,2.4,11.15,2.38,11.35,2.42,11.55,2.36,11.75,2.4,12,2.42,12.2,2.38,12.4,2.4,12.65,2.38,11.3,2.22,11.6,2.2,11.75,2.26,12,2.22,12.2,2.26,12.4,2.24,12.6,2.22,11.5,2.12,11.8,2.12,12.45,2.1,12.6,2.08,
12.1,2.3,12.3,2.32,12.5,2.3,12.1,2.48,12.28,2.46,12.5,2.47,12.2,2.64,12.45,2.62,11.45,4.72,11.55,4.55,11.4,4.42,11.5,4.25,11.7,3.7,11.95,3.7,12.15,3.5,11.95,3.5,11.6,3.3,11.85,3.3,12.05,3.3,12.25,3.3,11.65,3.1,11.85,3.1,12.05,3.1,12.25,3.1,11.85,2.95,12.05,2.95,12.25,2.92,12.45,2.9,11,2.62,11.2,2.62,11.4,2.62,11.6,2.62,11.05,2.45,11.25,2.47,11.45,2.47,11.65,2.45,11.45,2.3,11.85,2.32];
const clusterL=[.05,-15.2,.2,-15.14,.4,-15.1,.55,-15.08,0,-15.32,.15,-15.3,.3,-15.26,.48,-15.22,.6,-15.2,.08,-15.42,.22,-15.44,.38,-15.38,.55,-15.36,.18,-15.55,.35,-15.52,.5,-15.5,.3,-15.64,.45,-15.62,.42,-15.72];
const clusterM=[-1.2,-19.45,-1.08,-19.42,-1.24,-19.55,-1.12,-19.55,-1.02,-19.52,-1.2,-19.66,-1.08,-19.68,-1.12,-19.76];

const allClusters=[sausage,sausageFill,blobA,blobFill,topTall,topFill,lowerLeft,lowerLeftFill,lowerMid,lowerMidFill,rightArm,rightArmFill,clusterH,clusterF,clusterSmall,clusterG,clusterI,clusterJ,clusterK,clusterL,clusterM];
const points=[];
for(const c of allClusters){for(let i=0;i+1<c.length;i+=2)points.push({x:c[i],y:c[i+1]});}
const fmt=v=>String(v).replace('-','\u2212');
const colorbar={id:'colorbar',afterDraw(ch){
  const g=ch.ctx;g.save();
  g.fillStyle=pointColor;g.fillRect(1152,480,42,205);
  g.fillStyle='#fff';g.fillRect(1153,582,8,1);g.fillRect(1185,582,8,1);
  g.fillStyle='#000';g.font='32px "Liberation Sans"';g.textAlign='left';g.textBaseline='middle';
  g.fillText(legendLabel,1211,585);
  g.restore();
}};
new Chart(document.getElementById('c'),{
  type:'scatter',
  data:{datasets:[{data:points,backgroundColor:pointColor,borderWidth:0,pointRadius:3,pointHoverRadius:3}]},
  plugins:[colorbar],
  options:{responsive:false,animation:false,
    layout:{autoPadding:false,padding:{top:8,right:183,left:0,bottom:0}},
    plugins:{legend:{display:false},tooltip:{enabled:false}},
    scales:{
      x:{type:'linear',min:-19.6,max:15.6,
        afterBuildTicks:s=>{s.ticks=xTicks.map(v=>({value:v}))},
        afterFit:s=>{s.height=96;s.paddingLeft=0;s.paddingRight=0},
        grid:{drawOnChartArea:false,drawTicks:true,tickLength:9,tickColor:'#000',tickWidth:2.5},
        border:{color:'#000',width:2.5},
        ticks:{color:'#000',font:{size:32,family:'"Liberation Sans"'},padding:4,maxRotation:0,callback:v=>fmt(v)},
        title:{display:true,text:xTitle,color:'#000',font:{size:36.5,family:'"Liberation Sans"'},padding:{top:2,bottom:0}}},
      y:{type:'linear',min:-21.42,max:9.43,
        afterBuildTicks:s=>{s.ticks=yTicks.map(v=>({value:v}))},
        afterFit:s=>{s.width=130;s.paddingTop=0;s.paddingBottom=0},
        grid:{drawOnChartArea:false,drawTicks:true,tickLength:9,tickColor:'#000',tickWidth:2.5},
        border:{color:'#000',width:2.5},
        ticks:{color:'#000',font:{size:32,family:'"Liberation Sans"'},padding:8,labelOffset:2,callback:v=>fmt(v)},
        title:{display:true,text:yTitle,color:'#000',font:{size:36.5,family:'"Liberation Sans"'},padding:{top:10,bottom:0}}}
    }
  }
});
</script></body></html>
